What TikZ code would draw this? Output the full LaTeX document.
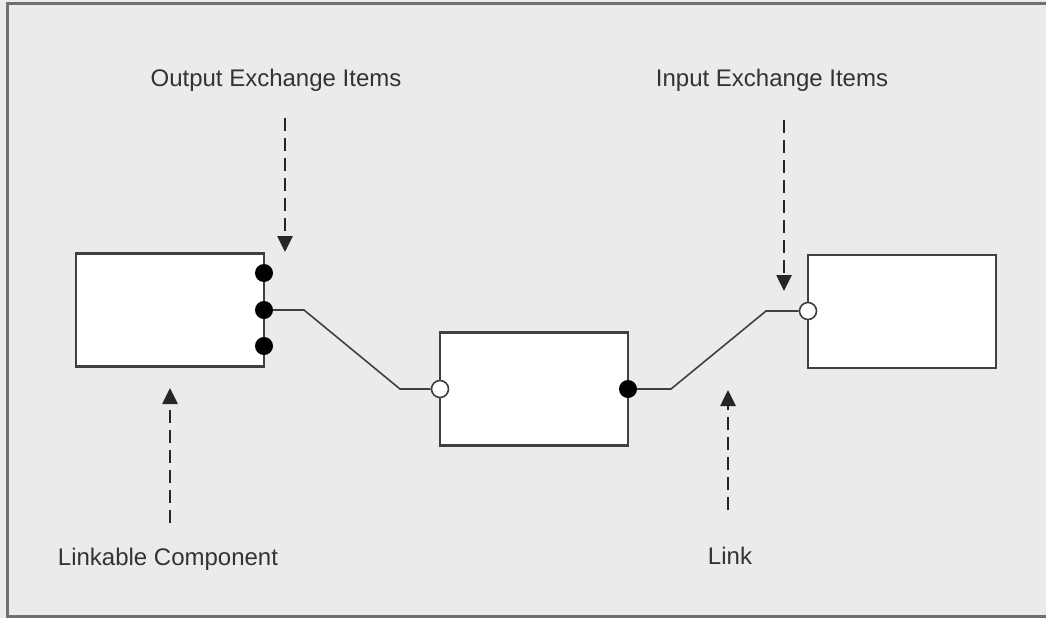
\documentclass[tikz,border=0pt]{standalone}
\usepackage{fontspec}
\setmainfont{Liberation Sans}
\usetikzlibrary{arrows.meta}
\definecolor{paper}{HTML}{EBEBEB}
\definecolor{edge}{HTML}{404040}
\definecolor{frameline}{HTML}{707070}
\tikzset{
  comp/.style={draw=edge, line width=2.2pt, fill=white, minimum width=188pt, minimum height=113pt, inner sep=0pt},
  portout/.style={circle, fill=black, minimum size=18pt, inner sep=0pt},
  portin/.style={circle, draw=edge, line width=1.6pt, fill=white, minimum size=17pt, inner sep=0pt},
  wire/.style={draw=edge, line width=1.6pt},
  pointer/.style={draw=black!85, line width=2.6pt, dash pattern=on 13pt off 7pt, -{Triangle[length=16pt,width=15pt]}},
  caption/.style={font=\fontsize{24}{27}\selectfont, text=black!80, inner sep=0pt}
}
\begin{document}
\begin{tikzpicture}[x=1pt, y=-1pt]
  \useasboundingbox (0,0) rectangle (1046,618);
  % backdrop and frame
  \fill[paper] (0,0) rectangle (1046,618);
  \draw[frameline, line width=3pt] (1046,3.5) -- (7.5,3.5) -- (7.5,616.5) -- (1046,616.5);

  % components
  \node[comp] (left)  at (170,310) {};
  \node[comp] (mid)   at (534,389) {};
  \node[comp] (right) at (902,311.5) {};

  % exchange items on the left component
  \node[portout] (o1) at (264,273) {};
  \node[portout] (o2) at (264,310) {};
  \node[portout] (o3) at (264,346) {};
  % middle component ports
  \node[portin]  (mi) at (440,389) {};
  \node[portout] (mo) at (628,389) {};
  % right component input
  \node[portin]  (ri) at (808,311) {};

  % link bends
  \coordinate (a1) at (304,310);
  \coordinate (a2) at (400,389);
  \coordinate (b1) at (671,389);
  \coordinate (b2) at (766,311);

  \draw[wire] (o2.east) -- (a1) -- (a2) -- (mi.west);
  \draw[wire] (mo.east) -- (b1) -- (b2) -- (ri.west);

  % captions
  \node[caption] (tout)  at (276,80)  {Output Exchange Items};
  \node[caption] (tin)   at (772,80)  {Input Exchange Items};
  \node[caption] (tcomp) at (168,559) {Linkable Component};
  \node[caption] (tlink) at (730,556) {Link};

  % pointers
  \coordinate (p1) at (285,118);
  \coordinate (q1) at (285,252);
  \coordinate (p2) at (784,120);
  \coordinate (q2) at (784,291);
  \coordinate (p3) at (170,523);
  \coordinate (q3) at (170,388);
  \coordinate (p4) at (728,510);
  \coordinate (q4) at (728,390);
  \draw[pointer] (p1) -- (q1);
  \draw[pointer] (p2) -- (q2);
  \draw[pointer] (p3) -- (q3);
  \draw[pointer] (p4) -- (q4);
\end{tikzpicture}
\end{document}
